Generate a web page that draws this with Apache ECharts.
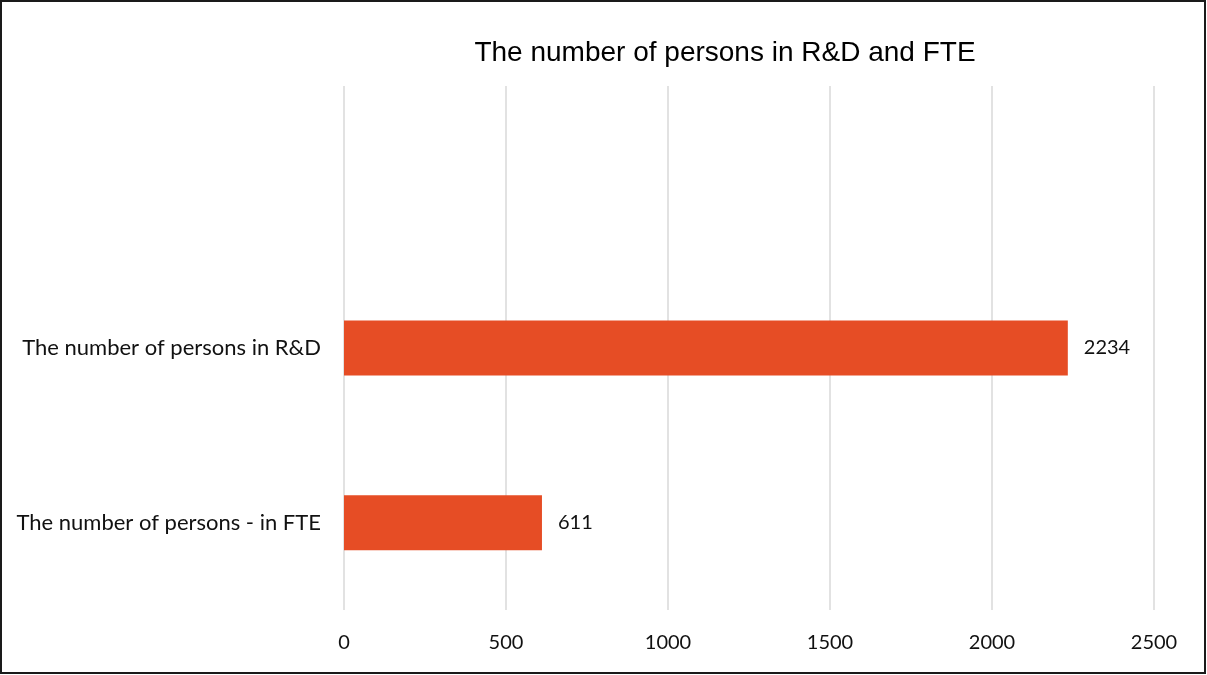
<!DOCTYPE html>
<html>
<head>
<meta charset="utf-8">
<title>The number of persons in R&amp;D and FTE</title>
<script src="https://cdn.jsdelivr.net/npm/echarts@6/dist/echarts.min.js"></script>
<style>
  html, body { margin: 0; padding: 0; background: #fff; }
  #main { width: 1207px; height: 675px; }
</style>
</head>
<body>
<div id="main"></div>
<script>
// top row is an empty category, like in the original sheet
const categories = ['', 'The number of persons in R&D', 'The number of persons - in FTE']
const persons = [null, 2234, 611]
const xTicks = [0, 500, 1000, 1500, 2000, 2500]

const labelFont = 'Lato, "Open Sans", sans-serif'
const barColor = '#e64d25'

const chart = echarts.init(document.getElementById('main'))

chart.setOption({
  backgroundColor: '#fff',
  animation: false,
  title: {
    text: 'The number of persons in R&D and FTE',
    left: 725,
    top: 39,
    textAlign: 'center',
    padding: 0,
    textStyle: {
      fontFamily: '"Liberation Sans", Arial, sans-serif',
      fontSize: 28,
      fontWeight: 'normal',
      color: '#000'
    }
  },
  graphic: [{
    type: 'rect',
    shape: { x: 1, y: 1, width: 1204, height: 672 },
    style: { fill: null, stroke: '#1a1a1a', lineWidth: 2 },
    silent: true
  }],
  grid: { left: 344, right: 53, top: 86, bottom: 65 },
  xAxis: {
    type: 'value',
    min: xTicks[0],
    max: xTicks[xTicks.length - 1],
    interval: xTicks[1] - xTicks[0],
    axisLine: { show: false },
    axisTick: { show: false },
    splitLine: { lineStyle: { color: '#d9d9d9', width: 1.5 } },
    axisLabel: {
      margin: 23,
      fontFamily: labelFont,
      fontSize: 20,
      color: '#111',
      formatter: v => String(v)
    }
  },
  yAxis: {
    type: 'category',
    inverse: true,
    data: categories,
    axisLine: { show: false },
    axisTick: { show: false },
    splitLine: { show: false },
    axisLabel: {
      margin: 23,
      fontFamily: labelFont,
      fontSize: 22,
      color: '#111'
    }
  },
  series: [{
    type: 'bar',
    data: persons,
    barWidth: 55,
    itemStyle: { color: barColor },
    label: {
      show: true,
      position: 'right',
      distance: 16,
      fontFamily: labelFont,
      fontSize: 20,
      color: '#111'
    }
  }]
})
</script>
</body>
</html>
